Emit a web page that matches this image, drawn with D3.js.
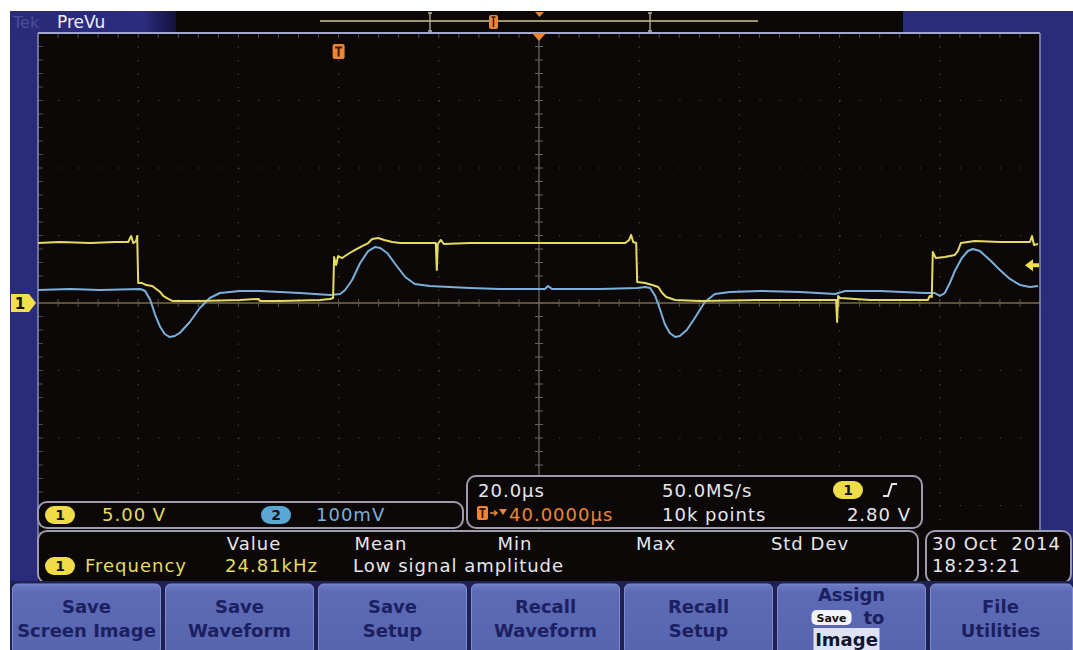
<!DOCTYPE html>
<html>
<head>
<meta charset="utf-8">
<script src="https://cdn.jsdelivr.net/npm/d3@7"></script>
<style>
  body { margin: 0; background: #fff; }
  svg { display: block; }
  text { font-family: "DejaVu Sans", sans-serif; }
</style>
</head>
<body>
<svg id="scope" width="1073" height="650"></svg>
<script>
// ---- acquisition: [time µs, value] ----
// Channel 1 (5.00 V/div), switching node
const ch1Trace = [
  [0,4.44],[4.4,4.52],[10.4,4.44],[15.4,4.52],[18.0,4.52],[18.6,4.96],[19.0,4.44],[19.6,4.59],[19.8,4.96],
  [20.0,1.48],[20.8,1.48],[21.6,1.33],[22.8,1.26],[23.6,1.04],[24.4,0.81],[25.0,0.52],[26.0,0.30],[26.8,0.15],
  [32.3,0.15],[40.3,0.22],[44.0,0.30],[44.4,0.15],[48.3,0.15],[56.3,0.22],[58.3,0.30],[58.9,0.37],
  [59.1,3.41],[59.5,2.81],[59.9,3.48],[60.7,3.33],[61.9,3.63],[63.3,3.93],[64.7,4.22],[65.9,4.44],[66.7,4.74],
  [67.9,4.81],[69.1,4.67],[70.7,4.52],[72.3,4.44],[79.4,4.44],[79.6,2.44],[79.8,4.37],[80.4,4.67],[81.0,4.37],
  [86.2,4.44],[96.2,4.44],[108.2,4.44],[117.2,4.44],[118.0,4.67],[118.4,5.04],[118.8,4.52],[119.4,4.44],
  [119.6,1.56],[121.2,1.48],[122.6,1.33],[123.8,1.19],[124.6,0.74],[125.4,0.44],[127.2,0.22],[132.1,0.15],
  [144.1,0.22],[152.1,0.22],[159.3,0.22],[159.5,-1.41],[159.7,0.52],[160.1,0.37],[166.1,0.22],[174.1,0.22],
  [177.6,0.22],[178.0,0.52],[178.4,0.44],[178.6,3.78],[179.2,3.33],[181.0,3.41],[183.0,3.56],[183.6,3.85],
  [184.2,4.44],[187.0,4.59],[192.0,4.52],[198.0,4.52],[198.4,4.96],[198.8,4.30],[199.6,4.37]
];
// Channel 2 (100 mV/div), sense signal
const ch2Trace = [
  [0,19.3],[6.4,20.7],[12.4,19.3],[20.4,20.7],[21.4,17.8],[22.4,4.4],[23.4,-17.8],[24.4,-35.6],[25.3,-45.9],
  [26.3,-50.4],[27.3,-48.9],[28.3,-44.4],[30.3,-28.1],[32.3,-7.4],[34.3,7.4],[36.3,14.8],[40.3,17.8],
  [44.3,17.8],[52.3,14.8],[58.3,11.9],[60.3,13.3],[61.3,19.3],[62.7,34.1],[64.3,59.3],[65.9,77.0],[67.3,83.0],
  [68.3,81.5],[69.7,74.1],[71.3,57.8],[73.3,38.5],[75.2,28.1],[78.2,25.2],[82.2,23.7],[86.2,22.2],[92.2,20.7],
  [101.2,20.7],[101.8,25.2],[102.6,20.7],[112.2,20.7],[119.6,22.2],[121.2,23.7],[122.2,22.2],[123.2,10.4],
  [124.2,-10.4],[125.1,-31.1],[126.1,-44.4],[127.2,-50.4],[128.1,-48.9],[129.5,-40.0],[131.1,-22.2],
  [133.1,1.5],[135.1,13.3],[138.1,16.3],[144.1,17.8],[152.1,16.3],[159.1,13.3],[161.1,17.8],[168.1,17.8],
  [177.0,14.8],[179.0,14.8],[180.0,10.4],[181.0,14.8],[182.0,29.6],[183.0,47.4],[184.4,66.7],[185.6,77.0],
  [186.6,80.0],[188.0,77.0],[190.0,63.7],[192.0,48.9],[194.0,35.6],[196.0,26.7],[198.0,23.7],[199.6,25.2]
];

// ---- settings & readouts ----
const timeDomain = [0, 200];      // µs, 20.0 µs/div × 10
const ch1Domain = [-20, 20];      // V, 5.00 V/div × 8
const ch2Domain = [-400, 400];    // mV, 100 mV/div × 8
const triggerTime = 60;           // µs, trigger point
const triggerLevel = 2.80;        // V
const timeTicks = d3.range(0, 201, 20);
const ch1Ticks = d3.range(-20, 21, 5);

const chScaleLabels = ["5.00 V", "100mV"];
const timebaseRow1 = ["20.0µs", "50.0MS/s"];
const timebaseRow2 = ["40.0000µs", "10k points", "2.80 V"];
const measureHeaders = ["Value", "Mean", "Min", "Max", "Std Dev"];
const measureRow = ["Frequency", "24.81kHz", "Low signal amplitude"];
const dateLines = ["30 Oct\u00a0 2014", "18:23:21"];
const buttonLabels = [
  ["Save", "Screen Image"], ["Save", "Waveform"], ["Save", "Setup"],
  ["Recall", "Waveform"], ["Recall", "Setup"], ["Assign", "to", "Image"], ["File", "Utilities"]
];

const C = {
  bg: "#0c0808", frame: "#2b2b7c", frameDark: "#22226a",
  yellow: "#e4dc62", blue: "#7ab0da", orange: "#ec8636",
  white: "#e6e6ea", panelEdge: "#9c9cae", grid: "#4a4444",
  btn: "#5b68b4", btnText: "#1b2060"
};

const svg = d3.select("#scope");

const defs = svg.append("defs");
const lg = defs.append("linearGradient").attr("id", "tabGrad").attr("x1", 0).attr("x2", 1);
lg.append("stop").attr("offset", 0).attr("stop-color", "#2a2a7a");
lg.append("stop").attr("offset", 0.8).attr("stop-color", "#2c2c80");
lg.append("stop").attr("offset", 1).attr("stop-color", "#14123a");
const vg = defs.append("linearGradient").attr("id", "btnGrad").attr("x1", 0).attr("x2", 0).attr("y1", 0).attr("y2", 1);
vg.append("stop").attr("offset", 0).attr("stop-color", "#6e7cc8");
vg.append("stop").attr("offset", 0.12).attr("stop-color", "#5d6ab6");
vg.append("stop").attr("offset", 1).attr("stop-color", "#5765b0");

// ---- scales ----
const x = d3.scaleLinear().domain(timeDomain).range([38, 1040]);
const y1 = d3.scaleLinear().domain(ch1Domain).range([573, 33]);
const y2 = d3.scaleLinear().domain(ch2Domain).range([573, 33]);

// ---- screen background and frame ----
svg.append("rect").attr("x", 10).attr("y", 11).attr("width", 1063).attr("height", 572).attr("fill", C.bg);
svg.append("rect").attr("x", 10).attr("y", 11).attr("width", 28).attr("height", 572).attr("fill", C.frame);
svg.append("rect").attr("x", 1040).attr("y", 11).attr("width", 33).attr("height", 572).attr("fill", C.frame);
svg.append("rect").attr("x", 10).attr("y", 11).attr("width", 166).attr("height", 22).attr("fill", "url(#tabGrad)");
svg.append("rect").attr("x", 903).attr("y", 11).attr("width", 170).attr("height", 22).attr("fill", C.frame);
svg.append("text").attr("x", 13).attr("y", 28).attr("font-size", 16).attr("fill", "#4c4c96").text("Tek");
svg.append("text").attr("x", 57).attr("y", 28).attr("font-size", 17).attr("fill", "#eeeef6").text("PreVu");

// record overview strip
const rec = svg.append("g");
rec.append("line").attr("x1", 320).attr("x2", 758).attr("y1", 21).attr("y2", 21)
  .attr("stroke", "#cfc78a").attr("stroke-width", 1.5);
[430, 650].forEach(bx => {
  rec.append("path").attr("d", `M${bx - 2},13 h2 v18 h-2 M${bx + 2},13 h-2 M${bx + 2},31 h-2`)
    .attr("stroke", "#b8b4a8").attr("stroke-width", 1.3).attr("fill", "none");
});
rec.append("rect").attr("x", 489).attr("y", 15).attr("width", 9).attr("height", 14).attr("rx", 2).attr("fill", C.orange);
rec.append("path").attr("d", "M491.5,17 h4 M493.5,17 v10").attr("stroke", "#3a1a06").attr("stroke-width", 1.5);
rec.append("path").attr("d", "M535,12 h9 l-4.5,5 z").attr("fill", C.orange);

// ---- graticule ----
const grat = svg.append("g");
grat.selectAll("line.vgrid").data(timeTicks.slice(1, -1)).join("line")
  .attr("x1", d => x(d)).attr("x2", d => x(d)).attr("y1", 33).attr("y2", 573)
  .attr("stroke", C.grid).attr("stroke-width", 1.2).attr("stroke-dasharray", "1.2 12.3");
grat.selectAll("line.hgrid").data(ch1Ticks.slice(1, -1)).join("line")
  .attr("x1", 38).attr("x2", 1040).attr("y1", d => y1(d)).attr("y2", d => y1(d))
  .attr("stroke", C.grid).attr("stroke-width", 1.2).attr("stroke-dasharray", "1.2 18.84");

// centre crosshair with minor ticks
const xc = x(d3.mean(timeDomain)), yc = y1(0);
grat.append("line").attr("x1", xc).attr("x2", xc).attr("y1", 33).attr("y2", 573)
  .attr("stroke", "#6c6866").attr("stroke-width", 1.2);
grat.append("line").attr("x1", 38).attr("x2", 1040).attr("y1", yc).attr("y2", yc)
  .attr("stroke", "#7a6a4a").attr("stroke-width", 1.3);
const minorT = d3.range(timeDomain[0], timeDomain[1] + 0.1, 4);
const minorV = d3.range(ch1Domain[0], ch1Domain[1] + 0.1, 1);
grat.selectAll("line.tx").data(minorT).join("line")
  .attr("x1", d => x(d)).attr("x2", d => x(d)).attr("y1", yc - 4).attr("y2", yc + 4)
  .attr("stroke", "#5c5450").attr("stroke-width", 1);
grat.selectAll("line.ty").data(minorV).join("line")
  .attr("x1", xc - 4).attr("x2", xc + 4).attr("y1", d => y1(d)).attr("y2", d => y1(d))
  .attr("stroke", "#66625e").attr("stroke-width", 1);
// edge ticks
grat.selectAll("line.et").data(minorT).join("line")
  .attr("x1", d => x(d)).attr("x2", d => x(d)).attr("y1", 33).attr("y2", 38)
  .attr("stroke", "#4c4a58").attr("stroke-width", 1);
grat.selectAll("line.el").data(minorV).join("line")
  .attr("x1", 38).attr("x2", 43).attr("y1", d => y1(d)).attr("y2", d => y1(d))
  .attr("stroke", "#4c4a58").attr("stroke-width", 1);

grat.append("line").attr("x1", 38).attr("x2", 1040).attr("y1", 33).attr("y2", 33)
  .attr("stroke", "#a0a6cc").attr("stroke-width", 2);
grat.append("line").attr("x1", 38).attr("x2", 38).attr("y1", 33).attr("y2", 573)
  .attr("stroke", "#8a8eb4").attr("stroke-width", 1.5);
grat.append("line").attr("x1", 1040).attr("x2", 1040).attr("y1", 33).attr("y2", 573)
  .attr("stroke", "#8a8eb4").attr("stroke-width", 1.5);

// ---- waveforms ----
defs.append("clipPath").attr("id", "gratClip").append("rect")
  .attr("x", 38).attr("y", 33).attr("width", 1002).attr("height", 540);
const waves = svg.append("g").attr("clip-path", "url(#gratClip)");
const line2 = d3.line().x(d => x(d[0])).y(d => y2(d[1]));
const line1 = d3.line().x(d => x(d[0])).y(d => y1(d[1]));
waves.append("path").attr("d", line2(ch2Trace)).attr("fill", "none")
  .attr("stroke", C.blue).attr("stroke-width", 2).attr("stroke-linejoin", "round");
waves.append("path").attr("d", line1(ch1Trace)).attr("fill", "none")
  .attr("stroke", C.yellow).attr("stroke-width", 2).attr("stroke-linejoin", "round");

// ---- markers ----
// trigger position
const tx = x(triggerTime);
svg.append("rect").attr("x", tx - 6).attr("y", 44).attr("width", 12).attr("height", 15).attr("rx", 2).attr("fill", C.orange);
svg.append("path").attr("d", `M${tx - 3.5},47.5 h7 M${tx},47.5 v9`).attr("stroke", "#3a1a06").attr("stroke-width", 2);
// expansion point
svg.append("path").attr("d", `M${xc - 7},33 h14 l-7,8 z`).attr("fill", C.orange);
// ch1 ground reference
svg.append("path").attr("d", `M11,${yc - 9} h18 l7,9 l-7,9 h-18 z`).attr("fill", "#f2e04a");
svg.append("text").attr("x", 20).attr("y", yc + 5.5).attr("text-anchor", "middle").attr("font-size", 15)
  .attr("font-weight", "bold").attr("fill", "#111").text("1");
// trigger level
const ty = y1(triggerLevel);
svg.append("path").attr("d", `M1025,${ty} l8,-6 v4 h6 v4 h-6 v4 z`).attr("fill", "#f2e04a");

// ---- readout panels ----
function panel(px, py, w, h) {
  svg.append("rect").attr("x", px).attr("y", py).attr("width", w).attr("height", h).attr("rx", 9)
    .attr("fill", C.bg).attr("stroke", C.panelEdge).attr("stroke-width", 2);
}
function chip(cx, cy, label, fill) {
  svg.append("rect").attr("x", cx - 15).attr("y", cy - 9).attr("width", 30).attr("height", 18).attr("rx", 9)
    .attr("fill", fill);
  svg.append("text").attr("x", cx).attr("y", cy + 5).attr("text-anchor", "middle").attr("font-size", 14)
    .attr("font-weight", "bold").attr("fill", "#15151a").text(label);
}
function label(tx_, ty_, str, fill, anchor) {
  return svg.append("text").attr("x", tx_).attr("y", ty_).attr("font-size", 18).attr("letter-spacing", 1)
    .attr("fill", fill).attr("text-anchor", anchor || "start").text(str);
}

// vertical scale box
panel(38, 502, 425, 26);
chip(60, 515, "1", "#f0dc48");
label(102, 521, chScaleLabels[0], C.yellow);
chip(276, 515, "2", "#5aa6d4");
label(316, 521, chScaleLabels[1], C.blue);

// timebase / trigger box
panel(467, 476, 455, 52);
label(478, 497, timebaseRow1[0], C.white);
label(662, 497, timebaseRow1[1], C.white);
chip(848, 490, "1", "#f0dc48");
svg.append("path").attr("d", "M883,496 h5 l4,-12 h5").attr("fill", "none").attr("stroke", C.white).attr("stroke-width", 2);
svg.append("rect").attr("x", 477).attr("y", 506).attr("width", 11).attr("height", 14).attr("rx", 2).attr("fill", C.orange);
svg.append("path").attr("d", "M479.5,509 h6 M482.5,509 v9").attr("stroke", "#3a1a06").attr("stroke-width", 1.8);
svg.append("path").attr("d", "M490,513 h6 M494,510.5 l3,2.5 l-3,2.5").attr("fill", "none").attr("stroke", C.orange).attr("stroke-width", 1.5);
svg.append("path").attr("d", "M499,509 h8 l-4,6 z").attr("fill", C.orange);
label(509, 521, timebaseRow2[0], C.orange);
label(662, 521, timebaseRow2[1], C.white);
label(911, 521, timebaseRow2[2], C.white, "end");

// measurement box
panel(38, 531, 880, 52);
const headerX = [254, 381, 515, 656, 810];
measureHeaders.forEach((h, i) => label(headerX[i], 550, h, C.white, "middle"));
chip(60, 566, "1", "#f0dc48");
label(85, 572, measureRow[0], C.yellow);
label(225, 572, measureRow[1], C.yellow);
label(353, 572, measureRow[2], C.white);

// date / time box
panel(926, 531, 145, 52);
label(932, 550, dateLines[0], C.white);
label(932, 572, dateLines[1], C.white);

// ---- soft-key menu ----
svg.append("rect").attr("x", 10).attr("y", 581).attr("width", 1063).attr("height", 69).attr("fill", "#1f2152");
const bw = 153;
const btn = svg.selectAll("g.btn").data(buttonLabels).join("g")
  .attr("transform", (d, i) => `translate(${10 + i * bw},0)`);
btn.append("rect").attr("x", 2.5).attr("y", 584).attr("width", (d, i) => i === 6 ? 142 : bw - 5)
  .attr("height", 70).attr("rx", 5).attr("fill", "url(#btnGrad)")
  .attr("stroke", "#7f8ad0").attr("stroke-width", 1);

btn.each(function (d, i) {
  const g = d3.select(this);
  const cx = (i === 6 ? 145 : bw) / 2;
  if (d.length === 2) {
    g.append("text").attr("x", cx).attr("y", 613).attr("text-anchor", "middle").attr("font-size", 18)
      .attr("font-weight", "bold").attr("fill", C.btnText).text(d[0]);
    g.append("text").attr("x", cx).attr("y", 637).attr("text-anchor", "middle").attr("font-size", 18)
      .attr("font-weight", "bold").attr("fill", C.btnText).text(d[1]);
  } else {
    g.append("text").attr("x", cx).attr("y", 601).attr("text-anchor", "middle").attr("font-size", 18)
      .attr("font-weight", "bold").attr("fill", C.btnText).text(d[0]);
    g.append("rect").attr("x", cx - 40).attr("y", 610).attr("width", 40).attr("height", 15).attr("rx", 5)
      .attr("fill", "#f4f4f8");
    g.append("text").attr("x", cx - 20).attr("y", 622).attr("text-anchor", "middle").attr("font-size", 11)
      .attr("font-weight", "bold").attr("fill", "#111").text("Save");
    g.append("text").attr("x", cx + 12).attr("y", 624).attr("font-size", 18)
      .attr("font-weight", "bold").attr("fill", C.btnText).text(d[1]);
    g.append("rect").attr("x", cx - 38).attr("y", 628).attr("width", 66).attr("height", 22)
      .attr("fill", "#dfe2f4");
    g.append("text").attr("x", cx - 5).attr("y", 646).attr("text-anchor", "middle").attr("font-size", 18)
      .attr("font-weight", "bold").attr("fill", "#111530").text(d[2]);
  }
});
</script>
</body>
</html>
